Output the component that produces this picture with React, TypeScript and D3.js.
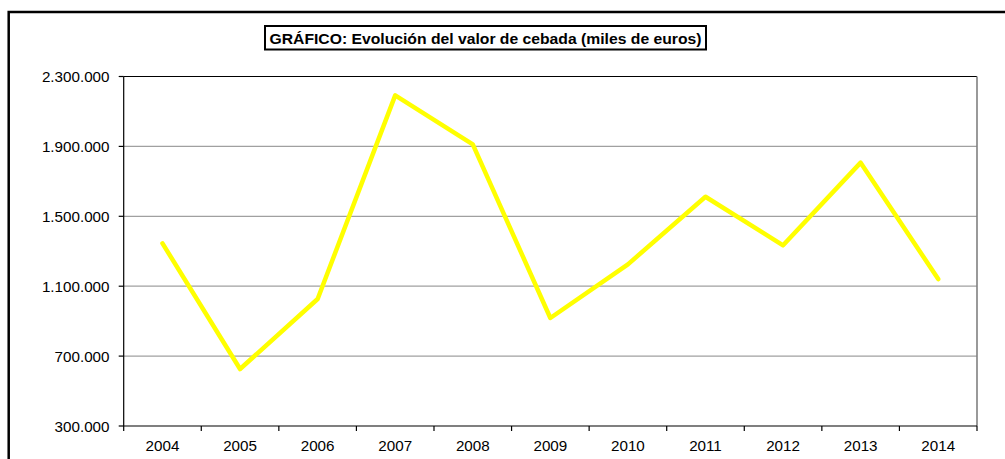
import React from "react";
import * as d3 from "d3";

const years = ["2004", "2005", "2006", "2007", "2008", "2009", "2010", "2011", "2012", "2013", "2014"];
const values = [1345000, 626000, 1027000, 2192000, 1912000, 918000, 1225000, 1612000, 1334000, 1807000, 1141000];
const yTicks = [300000, 700000, 1100000, 1500000, 1900000, 2300000];
const title = "GRÁFICO: Evolución del valor de cebada (miles de euros)";

const W = 1005;
const H = 459;
const plot = { left: 123.7, right: 977, top: 76.5, bottom: 426 };
const FONT = "Arial, 'Liberation Sans', sans-serif";

const esLocale = d3.formatLocale({ decimal: ",", thousands: ".", grouping: [3], currency: ["", "€"] });
const fmt = esLocale.format(",d");

export default function App() {
  const x = d3.scaleBand<string>().domain(years).range([plot.left, plot.right]).padding(0);
  const y = d3.scaleLinear().domain([300000, 2300000]).range([plot.bottom, plot.top]);
  const cx = (d: string) => (x(d) ?? 0) + x.bandwidth() / 2;
  const line = d3
    .line<number>()
    .x((_, i) => cx(years[i]))
    .y((v) => y(v));
  const boundaries = years.map((d) => x(d) ?? 0).concat([plot.right]);

  return (
    <svg
      width={W}
      height={H}
      style={{ position: "absolute", left: 0, top: 0, background: "#fff" }}
      fontFamily={FONT}
    >
      <rect x={0} y={0} width={W} height={H} fill="#fff" />
      {/* outer chart frame */}
      <rect x={8.7} y={12} width={W + 20} height={H + 20} fill="none" stroke="#000" strokeWidth={2.5} />

      {/* title box */}
      <rect x={265} y={26} width={441} height={23.5} fill="#fff" stroke="#000" strokeWidth={2} />
      <text x={485.5} y={44} textAnchor="middle" fontSize={15} fontWeight="bold" fill="#000" textLength={432} lengthAdjust="spacingAndGlyphs">
        {title}
      </text>

      {/* gridlines */}
      {yTicks.slice(1, -1).map((t) => (
        <line key={t} x1={plot.left} x2={plot.right} y1={y(t)} y2={y(t)} stroke="#a0a0a0" strokeWidth={1.3} />
      ))}
      {/* plot area top and right border */}
      <line x1={plot.left} x2={plot.right} y1={plot.top} y2={plot.top} stroke="#000" strokeWidth={1.2} />
      <line x1={plot.right} x2={plot.right} y1={plot.top} y2={plot.bottom} stroke="#808080" strokeWidth={1.6} />

      {/* y axis */}
      <line x1={plot.left} x2={plot.left} y1={plot.top} y2={plot.bottom} stroke="#000" strokeWidth={1.2} />
      {yTicks.map((t) => (
        <g key={t}>
          <line x1={plot.left - 5} x2={plot.left} y1={y(t)} y2={y(t)} stroke="#000" strokeWidth={1.2} />
          <text x={109.5} y={y(t) + 5.6} textAnchor="end" fontSize={15.2} fill="#000">
            {fmt(t)}
          </text>
        </g>
      ))}

      {/* x axis */}
      <line x1={plot.left} x2={plot.right} y1={plot.bottom} y2={plot.bottom} stroke="#000" strokeWidth={1.2} />
      {boundaries.map((b, i) => (
        <line key={i} x1={b} x2={b} y1={plot.bottom} y2={plot.bottom + 5} stroke="#000" strokeWidth={1.2} />
      ))}
      {years.map((d) => (
        <text key={d} x={cx(d)} y={plot.bottom + 25} textAnchor="middle" fontSize={15.2} fill="#000">
          {d}
        </text>
      ))}

      {/* series */}
      <path d={line(values) ?? ""} fill="none" stroke="#FFFF00" strokeWidth={4.5} strokeLinejoin="round" strokeLinecap="round" />
    </svg>
  );
}
